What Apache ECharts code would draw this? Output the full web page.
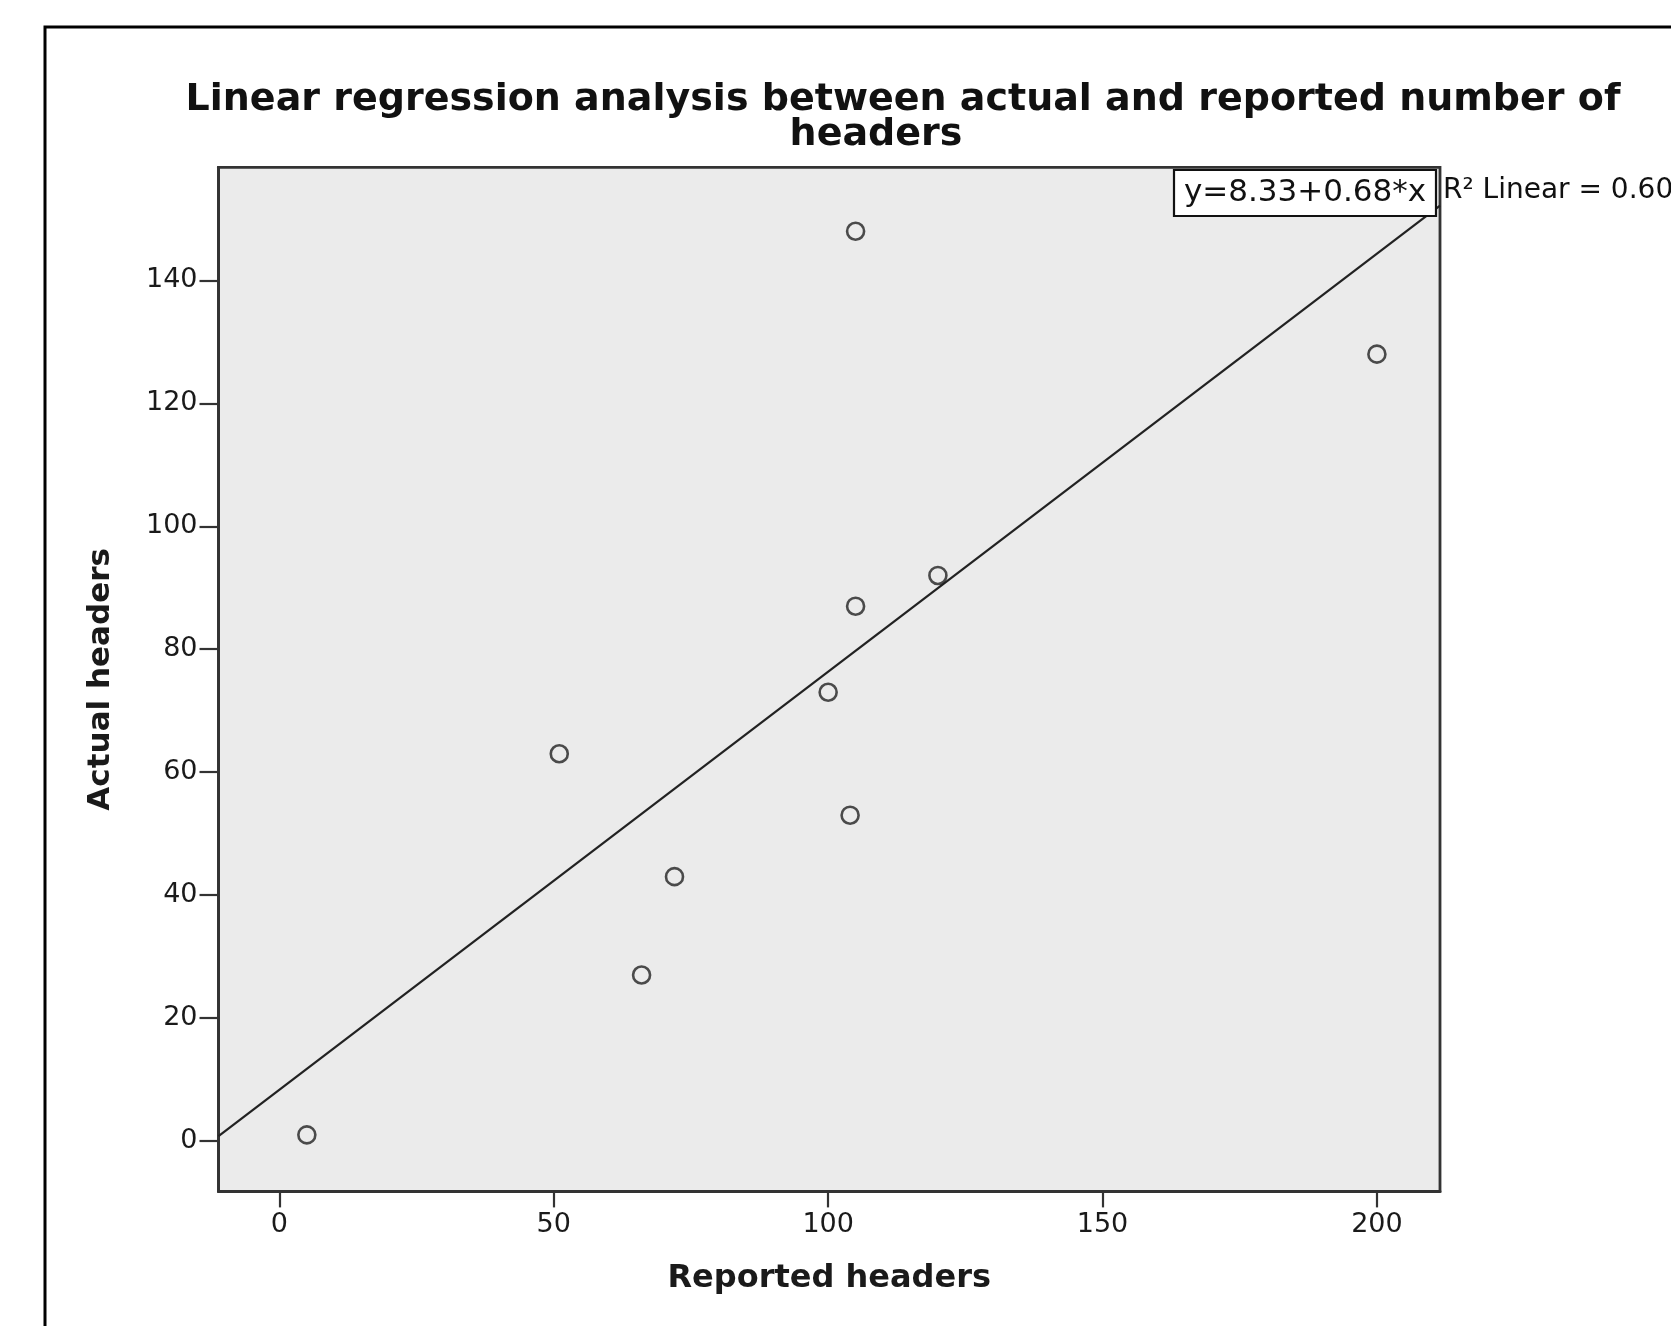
<!DOCTYPE html>
<html>
<head>
<meta charset="utf-8">
<script src="https://cdn.jsdelivr.net/npm/echarts@6/dist/echarts.min.js"></script>
<style>
  html, body { margin: 0; padding: 0; background: #ffffff; }
  #chart { width: 1671px; height: 1326px; }
</style>
</head>
<body>
<div id="chart"></div>
<script>
// ---- Data ----
const titleLines = ['Linear regression analysis between actual and reported number of', 'headers'];
const xAxisTitle = 'Reported headers';
const yAxisTitle = 'Actual headers';
const reportedHeaders = [5, 51, 66, 72, 100, 104, 105, 105, 120, 200];
const actualHeaders   = [1, 63, 27, 43, 73, 53, 87, 148, 92, 128];
const xTicks = [0, 50, 100, 150, 200];
const yTicks = [0, 20, 40, 60, 80, 100, 120, 140];
const xRange = [-11.1, 211.5];
const yRange = [-8.2, 158.4];
const fitIntercept = 8.33;
const fitSlope = 0.68;
const equationText = 'y=8.33+0.68*x';
const r2Text = 'R\u00B2 Linear = 0.60';

// ---- Build chart ----
const points = reportedHeaders.map((x, i) => [x, actualHeaders[i]]);
const fitLine = xRange.map(x => [x, fitIntercept + fitSlope * x]);

const FONT = '"DejaVu Sans", Verdana, sans-serif';
const ink = '#1a1a1a';
const frame = '#333333';

const chart = echarts.init(document.getElementById('chart'), null, { renderer: 'canvas' });

chart.setOption({
  backgroundColor: '#ffffff',
  animation: false,
  grid: {
    left: 218.5, top: 167.3, right: 231, bottom: 134.6,
    show: true,
    backgroundColor: '#ebebeb',
    borderColor: frame,
    borderWidth: 2.8
  },
  xAxis: {
    type: 'value',
    min: xRange[0], max: xRange[1],
    name: xAxisTitle,
    nameLocation: 'middle',
    nameGap: 71,
    nameTextStyle: { fontFamily: FONT, fontSize: 32, fontWeight: 'bold', color: ink },
    splitLine: { show: false },
    axisLine: { show: true, onZero: false, lineStyle: { color: frame, width: 2.8 } },
    axisTick: { show: true, customValues: xTicks, length: 16, lineStyle: { color: frame, width: 2.2 } },
    axisLabel: { customValues: xTicks, fontFamily: FONT, fontSize: 27, color: ink, margin: 20 }
  },
  yAxis: {
    type: 'value',
    min: yRange[0], max: yRange[1],
    name: yAxisTitle,
    nameLocation: 'middle',
    nameGap: 102,
    nameTextStyle: { fontFamily: FONT, fontSize: 31, fontWeight: 'bold', color: ink },
    splitLine: { show: false },
    axisLine: { show: true, onZero: false, lineStyle: { color: frame, width: 2.8 } },
    axisTick: { show: true, customValues: yTicks, length: 19, lineStyle: { color: frame, width: 2.2 } },
    axisLabel: { customValues: yTicks, fontFamily: FONT, fontSize: 27, color: ink, margin: 21 }
  },
  series: [
    {
      type: 'line',
      data: fitLine,
      showSymbol: false,
      symbol: 'none',
      lineStyle: { color: '#222222', width: 2.2 },
      silent: true,
      z: 2
    },
    {
      type: 'scatter',
      data: points,
      symbol: 'circle',
      symbolSize: 17,
      itemStyle: { color: 'rgba(0,0,0,0)', borderColor: '#222222', borderWidth: 2.6 },
      z: 3
    }
  ],
  graphic: [
    {
      type: 'rect',
      shape: { x: 45, y: 27, width: 1700, height: 1400 },
      style: { fill: 'none', stroke: '#000000', lineWidth: 3 },
      silent: true,
      z: -10
    },
    {
      type: 'text',
      x: 903, y: 100,
      style: { text: titleLines[0], font: 'bold 38px ' + FONT, fill: '#111111', align: 'center', verticalAlign: 'middle' },
      z: 10
    },
    {
      type: 'text',
      x: 876, y: 135,
      style: { text: titleLines[1], font: 'bold 38px ' + FONT, fill: '#111111', align: 'center', verticalAlign: 'middle' },
      z: 10
    },
    {
      type: 'rect',
      shape: { x: 1174, y: 170, width: 262, height: 46 },
      style: { fill: '#ffffff', stroke: '#111111', lineWidth: 2.2 },
      z: 20
    },
    {
      type: 'text',
      x: 1305, y: 193,
      style: { text: equationText, font: '31px ' + FONT, fill: '#111111', align: 'center', verticalAlign: 'middle' },
      z: 21
    },
    {
      type: 'text',
      x: 1443, y: 191,
      style: { text: r2Text, font: '28px ' + FONT, fill: '#111111', align: 'left', verticalAlign: 'middle' },
      z: 21
    }
  ]
});
</script>
</body>
</html>
